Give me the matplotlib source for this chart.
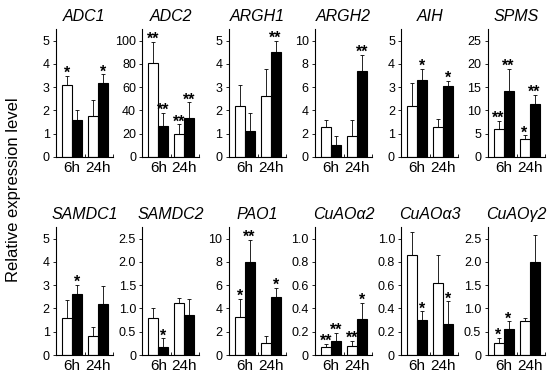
import numpy as np
import matplotlib
matplotlib.use("Agg")
import matplotlib.pyplot as plt

plt.rcParams["font.family"] = ["Liberation Sans", "DejaVu Sans"]

# Genes, top row then bottom row
genes = ["ADC1", "ADC2", "ARGH1", "ARGH2", "AIH", "SPMS",
         "SAMDC1", "SAMDC2", "PAO1", "CuAO\u03b12", "CuAO\u03b13", "CuAO\u03b32"]
times = ["6h", "24h"]

# y axis top tick and tick step for each panel
y_top = [5, 100, 5, 10, 5, 25, 5, 2.5, 10, 1.0, 1.0, 2.5]
y_step = [1, 20, 1, 2, 1, 5, 1, 0.5, 2, 0.2, 0.2, 0.5]

# white bars (control) mean and upper error, [6h, 24h]
white_mean = [[3.1, 1.75], [81, 20], [2.2, 2.62], [2.6, 1.8], [2.2, 1.3], [6.1, 3.95],
              [1.6, 0.8], [0.8, 1.12], [3.3, 1.05], [0.07, 0.075], [0.86, 0.62], [0.26, 0.73]]
white_err = [[0.4, 0.7], [18, 8], [0.9, 1.16], [0.6, 1.4], [1.0, 0.32], [1.6, 0.7],
             [0.75, 0.4], [0.2, 0.1], [1.5, 0.55], [0.025, 0.045], [0.2, 0.24], [0.11, 0.07]]
white_sig = [["*", ""], ["**", "**"], ["", ""], ["", ""], ["", ""], ["**", "*"],
             ["", ""], ["", ""], ["*", ""], ["**", "**"], ["", ""], ["*", ""]]

# black bars (treated) mean and upper error, [6h, 24h]
black_mean = [[1.6, 3.2], [26.5, 33.5], [1.1, 4.5], [1.05, 7.4], [3.3, 3.05], [14.1, 11.4],
              [2.6, 2.2], [0.18, 0.86], [8.0, 4.95], [0.12, 0.31], [0.3, 0.27], [0.55, 2.0]]
black_err = [[0.4, 0.35], [11.5, 13.5], [0.8, 0.5], [0.75, 1.35], [0.5, 0.22], [4.8, 1.9],
             [0.4, 0.75], [0.18, 0.34], [1.9, 0.85], [0.07, 0.14], [0.075, 0.19], [0.17, 0.57]]
black_sig = [["", "*"], ["**", "**"], ["", "**"], ["", "**"], ["*", "*"], ["**", "**"],
             ["*", ""], ["*", ""], ["**", "*"], ["**", "*"], ["*", "*"], ["*", ""]]


def fmt_tick(v, step):
    if v == 0:
        return "0"
    if step < 1:
        return f"{v:.1f}"
    return f"{int(round(v))}"


def draw_panel(ax, i):
    x_white = np.array([1.1, 3.7])
    x_black = x_white + 1.0
    wm, we = np.array(white_mean[i]), np.array(white_err[i])
    bm, be = np.array(black_mean[i]), np.array(black_err[i])

    for x, m, e, fc in [(x_white, wm, we, "white"), (x_black, bm, be, "black")]:
        ax.bar(x, m, width=1.0, color=fc, edgecolor="black", linewidth=0.8, zorder=2)
        ax.errorbar(x, m, yerr=[np.zeros_like(e), e], fmt="none", ecolor="black",
                    elinewidth=0.6, capsize=1.5, capthick=0.6, zorder=1)

    for x, m, e, sig in [(x_white, wm, we, white_sig[i]), (x_black, bm, be, black_sig[i])]:
        for xx, top, s in zip(x, m + e, sig):
            if s:
                ax.annotate(s, (xx, top), xytext=(0, -1.5), textcoords="offset points",
                            ha="center", va="baseline", fontsize=11.5, fontweight="bold")

    ax.set_xlim(0, 5.7)
    ax.set_ylim(0, y_top[i] * 1.1)
    ticks = np.arange(0, y_top[i] + y_step[i] / 2, y_step[i])
    ax.set_yticks(ticks)
    ax.set_yticklabels([fmt_tick(t, y_step[i]) for t in ticks], fontsize=9)
    ax.set_xticks((x_white + x_black) / 2)
    ax.set_xticklabels(times, fontsize=11)
    ax.tick_params(axis="x", length=0, pad=3)
    ax.tick_params(axis="y", length=2.5, width=0.6, pad=2)
    ax.set_xticks([2.9, 5.7], minor=True)
    ax.tick_params(axis="x", which="minor", length=2, width=0.6, direction="in")
    for side in ["top", "right"]:
        ax.spines[side].set_visible(False)
    for side in ["left", "bottom"]:
        ax.spines[side].set_linewidth(0.8)
    ax.set_title(genes[i], fontsize=11.5, style="italic", pad=6)


fig = plt.figure(figsize=(5.5, 3.79), dpi=100)
left0, step, width = 56 / 550, 86.3 / 550, 57 / 550
height = 128 / 379
bottoms = [1 - 157 / 379, 1 - 355 / 379]

for i in range(len(genes)):
    row, col = divmod(i, 6)
    ax = fig.add_axes([left0 + col * step, bottoms[row], width, height])
    draw_panel(ax, i)

fig.text(0.024, 0.5, "Relative expression level", rotation=90,
         va="center", ha="center", fontsize=12)

fig.savefig("out.png", dpi=100, facecolor="white")
